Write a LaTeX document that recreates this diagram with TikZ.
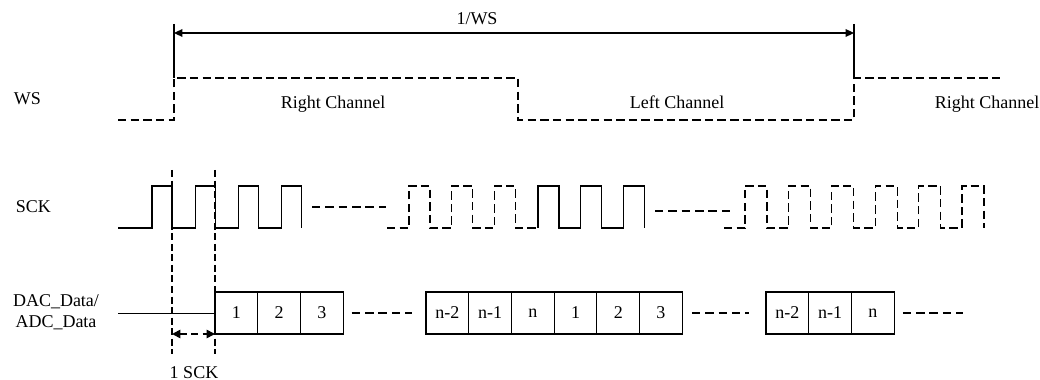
\documentclass[tikz,border=0pt]{standalone}
\usepackage{fontspec}
\setmainfont{Liberation Serif}
\usetikzlibrary{positioning,arrows.meta}

\tikzset{
  sig/.style={line width=0.8pt},
  dsig/.style={line width=0.8pt, dash pattern=on 6pt off 3pt},
  gapline/.style={line width=0.8pt, dash pattern=on 6pt off 3.5pt},
  tick/.style={line width=1.6pt, dash pattern=on 5pt off 2.5pt},
  bit/.style={draw, line width=0.8pt, minimum width=1.0675cm, minimum height=1.05cm, inner sep=0pt}
}

\begin{document}
\begin{tikzpicture}[x=0.025cm,y=-0.025cm,every node/.style={font=\fontsize{12.8}{15}\selectfont},node distance=1.0675cm,on grid]

    \useasboundingbox (0,0) rectangle (1040,380);

    %signal names
    \node[anchor=west] (wsname) at (9,99) {WS};
    \node[anchor=west] (sckname) at (11,207) {SCK};
    \node[align=center] (dataname) at (56,312) {DAC\_Data/\\ADC\_Data};

    %word select
    \draw[dsig] (118,120) -- (174,120) -- (174,78) -- (518,78) -- (518,120) -- (854,120) -- (854,78) -- (1002,78);
    \node[anchor=base] (rch1) at (333,109) {Right Channel};
    \node[anchor=base] (lch) at (677,109) {Left Channel};
    \node[anchor=base] (rch2) at (987,109) {Right Channel};

    %one period of WS
    \coordinate (p1) at (174,24);
    \coordinate (p2) at (854,24);
    \draw[sig] (p1) -- (174,78);
    \draw[sig] (p2) -- (854,78);
    \coordinate (a1) at (174,33);
    \coordinate (a2) at (854,33);
    \draw[sig,{Triangle[length=6pt,width=5.5pt]}-{Triangle[length=6pt,width=5.5pt]}] (a1) -- (a2);
    \node (period) at (477,19) {1/WS};

    %serial clock
    \draw[sig] (118,228) foreach \i in {0,...,3} { -- ({152+43.3*\i},228) |- ({172+43.3*\i},186) -- ({172+43.3*\i},228) };
    \draw[gapline] (312,207) -- (386,207);
    \draw[dsig] (387,228) foreach \i in {0,1,2} { -- ({409+42.8*\i},228) |- ({430+42.8*\i},186) -- ({430+42.8*\i},228) } -- (538,228);
    \draw[sig] (538,228) foreach \i in {0,1,2} { -- ({538+42.8*\i},228) |- ({559+42.8*\i},186) -- ({559+42.8*\i},228) };
    \draw[gapline] (655,211) -- (730,211);
    \draw[dsig] (724,228) foreach \i in {0,...,5} { -- ({745+43.4*\i},228) |- ({767+43.4*\i},186) -- ({767+43.4*\i},228) };

    %data bits
    \node[bit] (rb1) at (236.4,313) {1};
    \node[bit,right=of rb1] (rb2) {2};
    \node[bit,right=of rb2] (rb3) {3};
    \node[bit] (rbn2) at (447.4,313) {n-2};
    \node[bit,right=of rbn2] (rbn1) {n-1};
    \node[bit,right=of rbn1] (rbn) {n};
    \node[bit,right=of rbn] (lb1) {1};
    \node[bit,right=of lb1] (lb2) {2};
    \node[bit,right=of lb2] (lb3) {3};
    \node[bit] (lbn2) at (787.4,313) {n-2};
    \node[bit,right=of lbn2] (lbn1) {n-1};
    \node[bit,right=of lbn1] (lbn) {n};

    \coordinate (dstart) at (118,313);
    \coordinate (dend) at (963,313);
    \draw[sig,line width=0.6pt] (dstart) -- (rb1.west);
    \draw[gapline] ([xshift=0.2cm]rb3.east) -- ([xshift=-0.325cm]rbn2.west);
    \draw[gapline] ([xshift=0.225cm]lb3.east) -- ([xshift=-0.4cm]lbn2.west);
    \draw[gapline] ([xshift=0.2cm]lbn.east) -- (dend);

    %one SCK delay
    \coordinate (t1) at (172,170);
    \coordinate (t2) at (215,170);
    \coordinate (t1b) at (172,354);
    \coordinate (t2b) at (215,354);
    \draw[tick] (t1) -- (t1b);
    \draw[tick] (t2) -- (t2b);
    \coordinate (s1) at (172,334);
    \coordinate (s2) at (215,334);
    \draw[line width=1.2pt,dash pattern=on 5pt off 3pt,{Triangle[length=6pt,width=6pt]}-{Triangle[length=6pt,width=6pt]}] (s1) -- (s2);
    \node[anchor=base,inner sep=0.5pt] (sckspan) at (194,378) {1 SCK};

  \end{tikzpicture}
\end{document}
